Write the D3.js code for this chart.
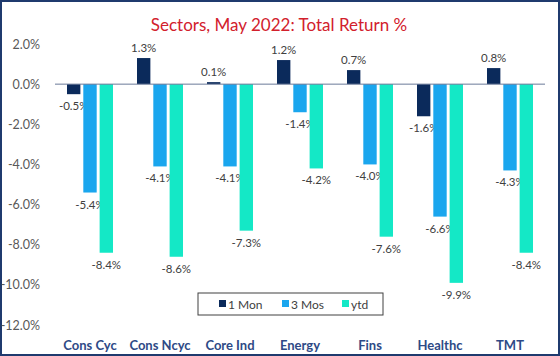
<!DOCTYPE html>
<html><head><meta charset="utf-8">
<script src="https://cdn.jsdelivr.net/npm/d3@7"></script>
<style>body{margin:0;background:#fff}svg{display:block}</style>
</head><body>
<script>
const categories = ["Cons Cyc","Cons Ncyc","Core Ind","Energy","Fins","Healthc","TMT"];
const seriesNames = ["1 Mon","3 Mos","ytd"];
const mon1 = [-0.5, 1.3, 0.1, 1.2, 0.7, -1.6, 0.8];
const mos3 = [-5.4, -4.1, -4.1, -1.4, -4.0, -6.6, -4.3];
const ytd = [-8.4, -8.6, -7.3, -4.2, -7.6, -9.9, -8.4];
const yTicks = [2, 0, -2, -4, -6, -8, -10, -12];
const colors = ["#0b2a5b", "#1aa6ee", "#14e8c6"];
const series = [mon1, mos3, ytd];

const W = 560, H = 356;
const svg = d3.select("body").append("svg").attr("width", W).attr("height", H);
svg.append("rect").attr("x",1).attr("y",1).attr("width",W-2).attr("height",H-2)
  .attr("fill","#fff").attr("stroke","#1f3a6e").attr("stroke-width",2);

svg.append("text").attr("x",279).attr("y",31).attr("text-anchor","middle")
  .attr("font-family","Lato, sans-serif").attr("font-size",17).attr("fill","#d2202c")
  .text("Sectors, May 2022: Total Return %");

const y = d3.scaleLinear().domain([-12, 2]).range([325, 44]);
const x0 = d3.scaleBand().domain(categories).range([55, 545]);
const x1 = d3.scaleBand().domain(seriesNames).range([0, 46]).paddingInner(0.18);

// y labels
const yAxis = svg.append("g").attr("transform","translate(43,0)")
  .call(d3.axisLeft(y).tickValues(yTicks).tickSize(0).tickFormat(d => d.toFixed(1) + "%"));
yAxis.select(".domain").remove();
yAxis.selectAll("text").attr("font-family","Lato, sans-serif").attr("font-size",12.5).attr("fill","#595959");

const groups = svg.append("g").selectAll("g").data(categories).join("g")
  .attr("transform", d => `translate(${x0(d) + (x0.bandwidth()-46)/2},0)`);

series.forEach((vals, si) => {
  groups.append("rect")
    .attr("x", x1(seriesNames[si]))
    .attr("width", x1.bandwidth())
    .attr("y", (d,i) => y(Math.max(0, vals[i])))
    .attr("height", (d,i) => Math.abs(y(vals[i]) - y(0)))
    .attr("fill", colors[si]);
  groups.append("text")
    .attr("x", x1(seriesNames[si]) + x1.bandwidth()/2)
    .attr("y", (d,i) => vals[i] >= 0 ? y(vals[i]) - 6 : y(vals[i]) + 16)
    .attr("text-anchor","middle")
    .attr("font-family","Lato, sans-serif").attr("font-size",11.5).attr("fill","#404040")
    .text((d,i) => vals[i].toFixed(1) + "%");
});

// zero line
svg.append("line").attr("x1",55).attr("x2",545).attr("y1",y(0)).attr("y2",y(0))
  .attr("stroke","#6b7a99").attr("stroke-width",1);

// x labels
const xAxis = svg.append("g").attr("transform","translate(0,338)")
  .call(d3.axisBottom(x0).tickSize(0));
xAxis.select(".domain").remove();
xAxis.selectAll("text").attr("font-family","Lato, sans-serif").attr("font-size",13)
  .attr("font-weight","bold").attr("fill","#2e4a86");

// legend
const lg = svg.append("g");
lg.append("rect").attr("x",198).attr("y",293).attr("width",185).attr("height",22)
  .attr("fill","#fff").attr("stroke","#404040").attr("stroke-width",1);
const lx = [219, 282, 342];
seriesNames.forEach((n, i) => {
  lg.append("rect").attr("x",lx[i]).attr("y",300).attr("width",7).attr("height",7).attr("fill",colors[i]);
  lg.append("text").attr("x",lx[i]+9).attr("y",308.5)
    .attr("font-family","Lato, sans-serif").attr("font-size",12).attr("fill","#404040").text(n);
});
</script>
</body></html>
